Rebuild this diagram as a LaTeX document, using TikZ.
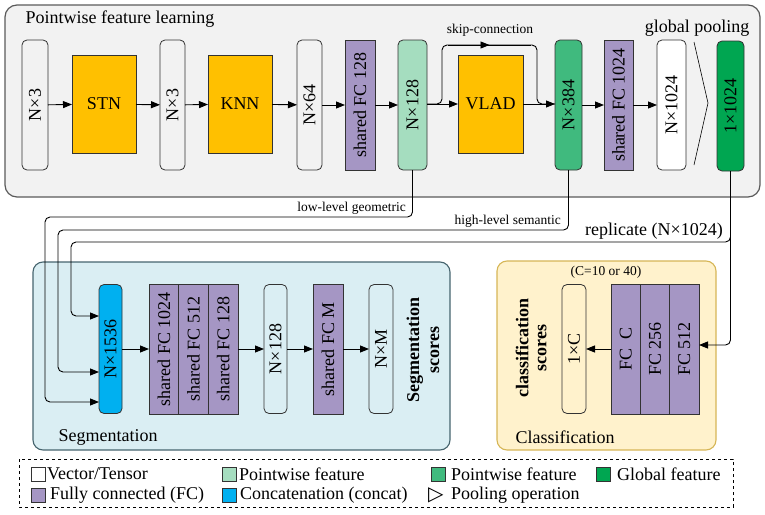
\documentclass[tikz,border=0pt]{standalone}
\usepackage{fontspec}
\setmainfont{Liberation Serif}
\newfontfamily\legsym{DejaVu Sans}
\usetikzlibrary{arrows.meta,decorations.markings,calc}
\definecolor{topbg}{HTML}{F2F2F2}
\definecolor{topbd}{HTML}{5A5A5A}
\definecolor{orangeF}{HTML}{FFC000}
\definecolor{purpleF}{HTML}{A596C4}
\definecolor{lgreen}{HTML}{A5DDBF}
\definecolor{mgreen}{HTML}{40BA7E}
\definecolor{dgreen}{HTML}{00A651}
\definecolor{cblue}{HTML}{00B0F0}
\definecolor{segbg}{HTML}{DAEEF3}
\definecolor{segbd}{HTML}{46646E}
\definecolor{clsbg}{HTML}{FFF2CC}
\definecolor{clsbd}{HTML}{D6B656}
\definecolor{boxbd}{HTML}{333333}
\tikzset{
  base/.style={draw=boxbd, line width=0.8pt, inner sep=0pt, outer sep=0pt},
  vecbox/.style={base, rounded corners=5pt, minimum height=130pt},
  fcbox/.style={base, fill=purpleF, minimum height=130pt},
  opbox/.style={base, fill=orangeF, minimum width=64pt, minimum height=98pt},
  rot/.style={rotate=90},
  arr/.style={-{Triangle[length=9pt,width=7pt]}, line width=0.9pt},
  link/.style={line width=0.9pt, rounded corners=5pt},
  small/.style={font=\fontsize{13.5}{15}\selectfont},
  swatch/.style={draw=boxbd, line width=0.6pt, minimum size=14pt, inner sep=0pt},
  midarrow/.style={postaction={decorate}, decoration={markings,
     mark=at position 0.5 with {\arrow{Triangle[length=9pt,width=7pt]}}}},
}
\begin{document}
\begin{tikzpicture}[x=1pt,y=-1pt, font=\fontsize{18}{20}\selectfont]
\useasboundingbox (0,0) rectangle (765,514);

% ---------- panels ----------
\draw[fill=topbg, draw=topbd, line width=1.2pt, rounded corners=12pt] (5,5) rectangle (760,197);
\draw[fill=segbg, draw=segbd, line width=1.1pt, rounded corners=10pt] (33,262) rectangle (450,450);
\draw[fill=clsbg, draw=clsbd, line width=1.1pt, rounded corners=10pt] (497,261) rectangle (716,450);

\node[anchor=west] (ttop) at (22,19) {Pointwise feature learning};
\node[anchor=west] (tseg) at (55,437) {Segmentation};
\node[anchor=west] (tcls) at (512,437) {Classification};

% ---------- top row ----------
\node[vecbox, minimum width=26pt] (n3a) at (35,105) {\rotatebox{90}{N×3}};
\node[opbox] (stn) at (104,104) {STN};
\node[vecbox, minimum width=25pt] (n3b) at (172.5,105) {\rotatebox{90}{N×3}};
\node[opbox] (knn) at (240,104) {KNN};
\node[vecbox, minimum width=25pt] (n64) at (309.5,105) {\rotatebox{90}{N×64}};
\node[fcbox, minimum width=30pt] (fc128) at (360,105) {\rotatebox{90}{shared FC 128}};
\node[vecbox, fill=lgreen, minimum width=29pt] (n128) at (412.5,105) {\rotatebox{90}{N×128}};
\node[opbox, minimum width=65pt] (vlad) at (490.5,104) {VLAD};
\node[vecbox, fill=mgreen, minimum width=27pt] (n384) at (568.5,105) {\rotatebox{90}{N×384}};
\node[fcbox, minimum width=29pt] (fc1024) at (618.5,105) {\rotatebox{90}{shared FC 1024}};
\node[vecbox, fill=white, minimum width=29pt] (n1024) at (671.5,105) {\rotatebox{90}{N×1024}};
\node[vecbox, fill=dgreen, minimum width=27pt] (g1024) at (730.5,106) {\rotatebox{90}{1×1024}};

\draw[arr] (n3a) -- (stn);
\draw[arr] (stn) -- (n3b);
\draw[arr] (n3b) -- (knn);
\draw[arr] (knn) -- (n64);
\draw[arr] (n64) -- (fc128);
\draw[arr] (fc128) -- (n128);
\draw[arr] (n128.east |- vlad.west) -- (vlad.west);
\draw[arr] (vlad.east) -- (n384.west |- vlad.east);
\draw[arr] (n384) -- (fc1024);
\draw[arr] (fc1024) -- (n1024);

% skip connection
\coordinate (sk1) at (442,104);
\coordinate (sk2) at (442,45);
\coordinate (sk3) at (537,45);
\coordinate (sk4) at (537,104);
\draw[link] (n128.east |- sk1) -- (sk1) -- (sk2) -- (sk3) -- (sk4) -- (n384.west |- sk4);
\draw[line width=0.9pt, midarrow] ($(sk2)+(6,0)$) -- ($(sk3)+(-6,0)$);
\node[small, anchor=south] (tskip) at (490,40) {skip-connection};

% pooling
\coordinate (p1) at (694,42);
\coordinate (p2) at (708,103);
\coordinate (p3) at (694,165);
\draw[line width=0.6pt] (p1) -- (p2) -- (p3);
\node[anchor=base] (tpool) at (697,32) {global pooling};

% ---------- segmentation row ----------
\node[vecbox, fill=cblue, minimum width=23pt, minimum height=129pt] (n1536) at (110.5,349) {\rotatebox{90}{N×1536}};
\node[fcbox, minimum width=29.7pt] (s1) at (163.85,349) {\rotatebox{90}{shared FC 1024}};
\node[fcbox, minimum width=29.7pt, anchor=west] (s2) at (s1.east) {\rotatebox{90}{shared FC 512}};
\node[fcbox, minimum width=29.7pt, anchor=west] (s3) at (s2.east) {\rotatebox{90}{shared FC 128}};
\node[vecbox, minimum width=23pt, minimum height=129pt] (n128s) at (275.5,349) {\rotatebox{90}{N×128}};
\node[fcbox, minimum width=30pt] (fcm) at (328,349) {\rotatebox{90}{shared FC M}};
\node[vecbox, minimum width=24pt, minimum height=129pt] (nm) at (381,349) {\rotatebox{90}{N×M}};
\node[rot, align=center, font=\fontsize{18}{20}\selectfont\bfseries] (segsc) at (423,350) {Segmentation\\scores};

\draw[arr] (n1536) -- (s1);
\draw[arr] (s3) -- (n128s);
\draw[arr] (n128s) -- (fcm);
\draw[arr] (fcm) -- (nm);

% ---------- classification ----------
\node[vecbox, minimum width=24pt, minimum height=129pt] (c1) at (574,349) {\rotatebox{90}{1×C}};
\node[fcbox, minimum width=29.33pt] (fa) at (625.67,349) {\rotatebox{90}{FC\enspace C}};
\node[fcbox, minimum width=29.33pt, anchor=west] (fb) at (fa.east) {\rotatebox{90}{FC 256}};
\node[fcbox, minimum width=29.33pt, anchor=west] (fc) at (fb.east) {\rotatebox{90}{FC 512}};
\node[rot, align=center, font=\fontsize{18}{18}\selectfont\bfseries] (clssc) at (531,348) {classification\\scores};
\node[small] (tC) at (606,272) {(C=10 or 40)};
\draw[arr] (fa) -- (c1);

% ---------- long connectors ----------
\coordinate (l1) at (45,217);
\coordinate (l2) at (45,402);
\draw[link, arr] (n128.south) -- (n128.south |- l1) -- (l1) -- (l2) -- (n1536.west |- l2);
\node[small, anchor=south east, inner sep=1pt] (tlow) at (407,216) {low-level geometric};

\coordinate (h1) at (58,230);
\coordinate (h2) at (58,372);
\draw[link, arr] (n384.south) -- (n384.south |- h1) -- (h1) -- (h2) -- (n1536.west |- h2);
\node[small, anchor=south east, inner sep=1pt] (thigh) at (562,229) {high-level semantic};

\coordinate (r1) at (71,242);
\coordinate (r2) at (71,316);
\coordinate (r3) at (730.5,345);
\draw[link, arr] (g1024.south) -- (g1024.south |- r1) -- (r1) -- (r2) -- (n1536.west |- r2);
\draw[link, arr] (g1024.south) -- (r3) -- (fc.east |- r3);
\node[anchor=south east, inner sep=1pt] (trep) at (724,241) {replicate (N×1024)};

% ---------- legend ----------
\draw[dashed, line width=0.8pt] (19,459) rectangle (733,507);
\node[swatch, fill=white] (k1) at (38,474) {};
\node[anchor=west, inner sep=0pt] (k1t) at (47,474) {Vector/Tensor};
\node[swatch, fill=lgreen] (k2) at (229,474) {};
\node[anchor=west, inner sep=0pt] (k2t) at (239,474) {Pointwise feature};
\node[swatch, fill=mgreen] (k3) at (438,474) {};
\node[anchor=west, inner sep=0pt] (k3t) at (451,474) {Pointwise feature};
\node[swatch, fill=dgreen] (k4) at (603,474) {};
\node[anchor=west, inner sep=0pt] (k4t) at (617,474) {Global feature};
\node[swatch, fill=purpleF] (k5) at (38,495) {};
\node[anchor=west, inner sep=0pt] (k5t) at (50,495) {Fully connected (FC)};
\node[swatch, fill=cblue] (k6) at (229,495) {};
\node[anchor=west, inner sep=0pt] (k6t) at (240,495) {Concatenation (concat)};
\node[anchor=west, inner sep=0pt, font=\fontsize{20}{20}\legsym] (k7) at (428,495) {▷};
\node[anchor=west, inner sep=0pt] (k7t) at (451,495) {Pooling operation};
\end{tikzpicture}
\end{document}
